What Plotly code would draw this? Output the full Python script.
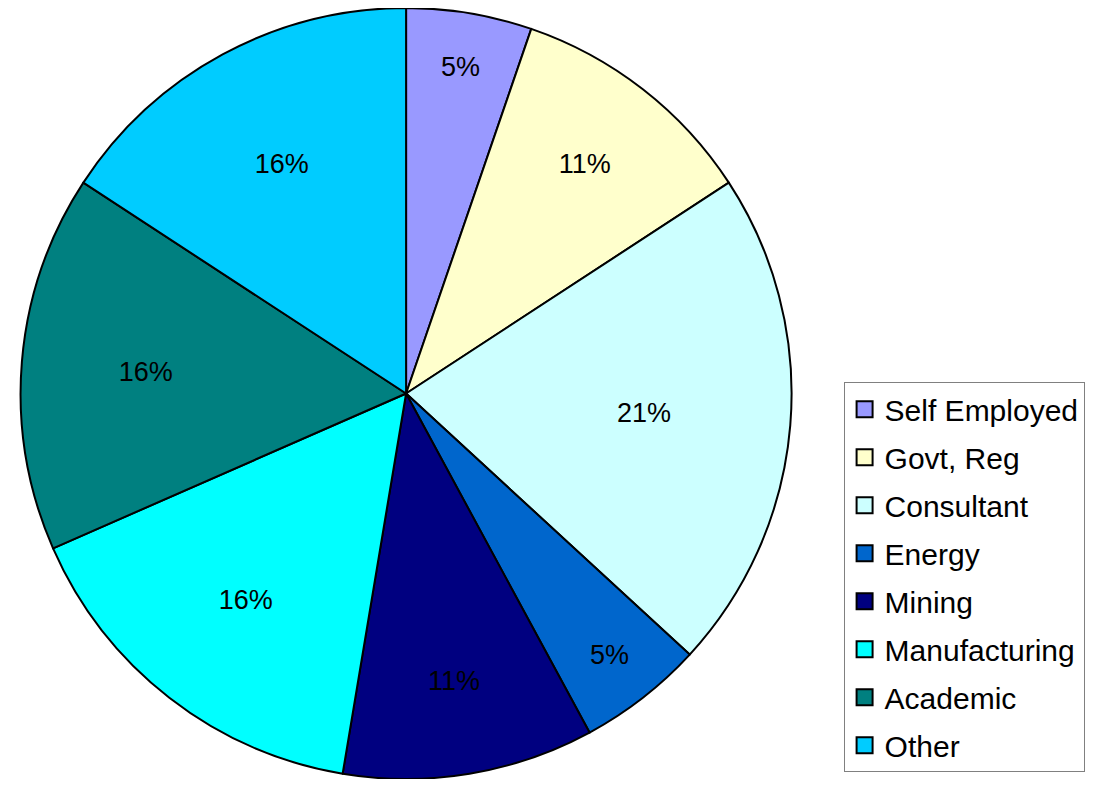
import plotly.graph_objects as go

labels = ["Self Employed", "Govt, Reg", "Consultant", "Energy", "Mining",
          "Manufacturing", "Academic", "Other"]
counts = [1, 2, 4, 1, 2, 3, 3, 3]
colors = ["#9999FF", "#FFFFCC", "#CCFFFF", "#0066CC", "#000080",
          "#00FFFF", "#008080", "#00CCFF"]

FONT = "Liberation Sans, Arial, sans-serif"
W, H = 1093, 787
cx, half = 404, 396

fig = go.Figure()
fig.add_trace(go.Pie(
    labels=labels, values=counts, sort=False, direction="clockwise", rotation=0,
    marker=dict(colors=colors, line=dict(color="black", width=2)),
    texttemplate="%{percent:.0%}", textposition="inside",
    insidetextorientation="horizontal",
    textfont=dict(family=FONT, size=27, color="black"),
    showlegend=False, hoverinfo="label+percent",
    domain=dict(x=[(cx - half) / W, (cx + half) / W], y=[0, 1]),
))
for lab, col in zip(labels, colors):
    fig.add_trace(go.Scatter(
        x=[None], y=[None], mode="markers", name=lab, legendgroup=lab,
        marker=dict(symbol="square", size=16, color=col,
                    line=dict(color="black", width=2)),
        hoverinfo="skip",
    ))

fig.update_layout(
    margin=dict(l=0, r=0, t=0, b=0, autoexpand=False),
    paper_bgcolor="white", plot_bgcolor="white",
    xaxis=dict(visible=False), yaxis=dict(visible=False),
    font=dict(family=FONT, color="black"),
    legend=dict(x=848 / W, y=1 - 382 / H, xanchor="left", yanchor="top",
                bordercolor="#808080", borderwidth=1, bgcolor="white",
                font=dict(family=FONT, size=30, color="black"),
                tracegroupgap=6, itemsizing="trace", traceorder="grouped"),
)
fig.write_html("out.html")
